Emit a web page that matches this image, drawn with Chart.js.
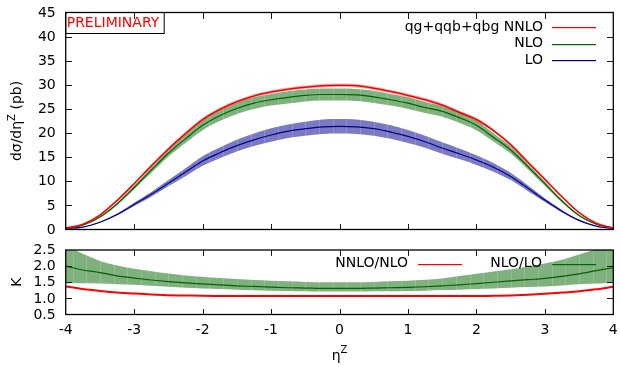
<!DOCTYPE html>
<html><head><meta charset="utf-8">
<script src="https://cdn.jsdelivr.net/npm/chart.js@4.4.0/dist/chart.umd.min.js"></script>
<style>
html,body{margin:0;padding:0;background:#fff;overflow:hidden;}
#wrap{position:relative;width:620px;height:367px;background:#fff;}
#top{position:absolute;left:0;top:0;}
#bot{position:absolute;left:0;top:240px;}
</style></head><body>
<div id="wrap"><canvas id="top" width="620" height="240"></canvas><canvas id="bot" width="620" height="127"></canvas></div>
<script>
// ---- data ----
const eta = [-4,-3.75,-3.5,-3.25,-3,-2.75,-2.5,-2.25,-2,-1.75,-1.5,-1.25,-1,-0.75,-0.5,-0.25,0,0.25,0.5,0.75,1,1.25,1.5,1.75,2,2.25,2.5,2.75,3,3.25,3.5,3.75,4];
const nnlo   = [0.3,1.1,3.0,6.0,9.5,13.2,16.7,19.9,22.8,24.9,26.5,27.7,28.5,29.1,29.5,29.8,29.9,29.8,29.3,28.6,27.8,26.9,25.8,24.3,22.8,20.5,17.6,14.0,10.4,6.8,3.5,1.3,0.3];
const nnloHi = [0.32,1.15,3.1,6.15,9.7,13.45,17.0,20.2,23.15,25.25,26.85,28.05,28.85,29.45,29.85,30.15,30.25,30.15,29.65,28.95,28.15,27.25,26.15,24.65,23.15,20.8,17.9,14.25,10.6,7.0,3.6,1.35,0.32];
const nnloLo = [0.28,1.05,2.9,5.85,9.3,12.95,16.4,19.6,22.45,24.55,26.15,27.35,28.15,28.75,29.15,29.45,29.55,29.45,28.95,28.25,27.45,26.55,25.45,23.95,22.45,20.2,17.3,13.75,10.2,6.6,3.4,1.25,0.28];
const nlo    = [0.3,0.9,2.6,5.3,8.7,12.3,15.8,18.8,21.6,23.6,25.1,26.2,26.9,27.4,27.8,28.0,28.0,27.9,27.5,26.9,26.2,25.3,24.5,23.2,21.6,19.1,16.5,13.1,9.5,5.9,2.9,1.1,0.3];
const nloHi  = [0.32,0.95,2.75,5.55,9.1,12.85,16.5,19.65,22.6,24.7,26.25,27.4,28.1,28.65,29.05,29.25,29.25,29.15,28.75,28.1,27.4,26.45,25.6,24.25,22.6,19.95,17.25,13.7,9.95,6.2,3.05,1.15,0.32];
const nloLo  = [0.28,0.85,2.45,5.05,8.3,11.75,15.1,17.95,20.6,22.5,23.95,25.0,25.7,26.15,26.55,26.75,26.75,26.65,26.25,25.7,25.0,24.15,23.4,22.15,20.6,18.25,15.75,12.5,9.05,5.6,2.75,1.05,0.28];
const lo     = [0.2,0.5,1.5,3.1,5.2,7.3,9.6,11.9,14.2,15.9,17.4,18.6,19.6,20.4,20.9,21.3,21.4,21.3,20.9,20.2,19.3,18.2,16.9,15.7,14.4,12.9,11.0,8.6,6.1,3.8,1.9,0.7,0.2];
const loHi   = [0.21,0.54,1.6,3.3,5.55,7.8,10.25,12.7,15.2,17.0,18.6,19.9,21.0,21.8,22.35,22.8,22.9,22.8,22.35,21.6,20.65,19.45,18.1,16.8,15.4,13.8,11.75,9.2,6.5,4.05,2.05,0.75,0.21];
const loLo   = [0.19,0.46,1.4,2.9,4.85,6.8,8.95,11.05,13.2,14.8,16.2,17.3,18.2,19.0,19.45,19.8,19.9,19.8,19.45,18.8,17.95,16.95,15.7,14.6,13.4,12.0,10.25,8.0,5.7,3.55,1.75,0.65,0.19];
const kNNLO  = [1.37,1.29,1.23,1.18,1.15,1.12,1.10,1.09,1.08,1.075,1.07,1.07,1.07,1.07,1.07,1.07,1.07,1.07,1.07,1.07,1.07,1.07,1.07,1.07,1.07,1.08,1.09,1.11,1.14,1.18,1.22,1.28,1.36];
const kNLO   = [2.0,1.88,1.80,1.70,1.63,1.57,1.52,1.48,1.45,1.42,1.39,1.37,1.35,1.33,1.32,1.31,1.31,1.31,1.32,1.33,1.34,1.36,1.39,1.42,1.46,1.50,1.54,1.58,1.62,1.68,1.76,1.86,1.95];
const kNLOHi = [2.65,2.38,2.16,2.02,1.92,1.84,1.77,1.71,1.67,1.63,1.60,1.57,1.55,1.53,1.51,1.50,1.50,1.50,1.51,1.53,1.55,1.58,1.62,1.69,1.76,1.83,1.90,1.99,2.08,2.20,2.36,2.52,2.60];
const kNLOLo = [1.47,1.47,1.46,1.44,1.42,1.39,1.36,1.33,1.31,1.29,1.27,1.25,1.24,1.23,1.22,1.21,1.21,1.21,1.22,1.22,1.23,1.24,1.26,1.27,1.29,1.31,1.33,1.35,1.37,1.40,1.44,1.46,1.48];
const xTicks = [-4,-3,-2,-1,0,1,2,3,4];
const yTicksTop = [0,5,10,15,20,25,30,35,40,45];
const yTicksBot = [0.5,1.0,1.5,2.0,2.5];
const legendTop = ['qg+qqb+qbg NNLO','NLO','LO'];
const legendBot = ['NNLO/NLO','NLO/LO'];
const BIN_W = 0.2; // histogram bin width of the bands

const FONT = 'DejaVu Sans';
const F14 = '14px "'+FONT+'"', F10 = '10px "'+FONT+'"';
const RED='#ff0000', GREEN='#006400', BLUE='#000090';
const GREEN_F='rgba(0,100,0,0.5)', BLUE_F='rgba(0,0,140,0.52)', RED_F='rgba(255,0,0,0.3)';

const pts = arr => arr.map((v,i)=>({x:eta[i],y:v}));
function band(hi, lo, color){
  return [
    {data:pts(hi),borderWidth:0,pointRadius:0,fill:'+1',backgroundColor:color,order:2,cubicInterpolationMode:'monotone',clip:0},
    {data:pts(lo),borderWidth:0,pointRadius:0,fill:false,order:2,cubicInterpolationMode:'monotone',clip:0}
  ];
}
function line(arr,color,w){
  return {data:pts(arr),borderColor:color,borderWidth:w,pointRadius:0,fill:false,order:0,cubicInterpolationMode:'monotone',clip:0};
}

// faint bin-edge stripes over the bands (invisible on the white background)
const binStripes = {id:'binStripes', afterDatasetDraw(chart,args){
  if(args.index!==0) return;
  const ctx=chart.ctx, a=chart.chartArea, x=chart.scales.x;
  ctx.save(); ctx.fillStyle='rgba(255,255,255,0.17)';
  for(let e=-4+BIN_W/2; e<4; e+=BIN_W){
    const p=Math.round(x.getPixelForValue(e));
    ctx.fillRect(p,a.top,1,a.bottom-a.top);
  }
  ctx.restore();
}};

// frame, inward ticks on all four sides, tick labels (positions from the chart's scales)
function frame(yTicks, yFmt, xLabels){
  return {id:'frame', afterDraw(chart){
    const ctx=chart.ctx, a=chart.chartArea, x=chart.scales.x, y=chart.scales.y;
    ctx.save();
    ctx.fillStyle='#1a1a1a';
    const t=Math.round(a.top), b=Math.round(a.bottom), l=Math.round(a.left), r=Math.round(a.right);
    xTicks.forEach(v=>{ if(v===-4||v===4) return; const p=Math.round(x.getPixelForValue(v));
      ctx.fillRect(p,b-6,1,6); ctx.fillRect(p,t,1,6);});
    yTicks.forEach((v,i)=>{ if(i===0||i===yTicks.length-1) return; const p=Math.round(y.getPixelForValue(v));
      ctx.fillRect(l,p,6,1); ctx.fillRect(r-6,p,6,1);});
    ctx.strokeStyle='#000'; ctx.lineWidth=1.3;
    ctx.strokeRect(a.left,a.top,a.right-a.left,a.bottom-a.top);
    ctx.font=F14; ctx.fillStyle='#000';
    ctx.textAlign='right'; ctx.textBaseline='middle';
    yTicks.forEach(v=>ctx.fillText(yFmt(v),a.left-10,y.getPixelForValue(v)+0.5));
    if(xLabels){
      ctx.textAlign='center';
      xTicks.forEach(v=>ctx.fillText(String(v),x.getPixelForValue(v),a.bottom+16));
    }
    ctx.restore();
  }};
}
function legendRow(ctx,text,color,xr,y,x1,x2){
  ctx.fillStyle='#000'; ctx.textAlign='right'; ctx.textBaseline='middle';
  ctx.fillText(text,xr,y);
  ctx.fillStyle=color;
  ctx.fillRect(x1,Math.round(y),x2-x1,1.2);
}

const topDecor = {id:'topDecor', afterDraw(chart){
  const ctx=chart.ctx; const a=chart.chartArea;
  ctx.save();
  ctx.font=F14;
  ctx.strokeStyle='#000'; ctx.lineWidth=1;
  ctx.strokeRect(a.left,a.top,98.5,21);
  ctx.fillStyle='#ff0000'; ctx.textAlign='left'; ctx.textBaseline='middle';
  ctx.fillText('PRELIMINARY',a.left+1,a.top+11);
  const cols=[RED,GREEN,BLUE];
  legendTop.forEach((t,i)=>legendRow(ctx,t,cols[i],543,27+i*16.5,552,596));
  ctx.translate(17,(a.top+a.bottom)/2); ctx.rotate(-Math.PI/2);
  ctx.fillStyle='#000'; ctx.textBaseline='middle';
  const p1='dσ/dη', p2='Z', p3=' (pb)';
  ctx.font=F14; const w1=ctx.measureText(p1).width, w3=ctx.measureText(p3).width;
  ctx.font=F10; const w2=ctx.measureText(p2).width;
  const sx=-(w1+w2+w3)/2;
  ctx.textAlign='left';
  ctx.font=F14; ctx.fillText(p1,sx,0);
  ctx.font=F10; ctx.fillText(p2,sx+w1,-5);
  ctx.font=F14; ctx.fillText(p3,sx+w1+w2,0);
  ctx.restore();
}};

const botDecor = {id:'botDecor', afterDraw(chart){
  const ctx=chart.ctx; const a=chart.chartArea;
  ctx.save();
  ctx.font=F14;
  legendRow(ctx,legendBot[0],RED,408,23.5,418,462);
  legendRow(ctx,legendBot[1],GREEN,542,23.5,552,596);
  ctx.save(); ctx.translate(17,(a.top+a.bottom)/2); ctx.rotate(-Math.PI/2);
  ctx.fillStyle='#000'; ctx.textAlign='center'; ctx.textBaseline='middle'; ctx.fillText('K',0,0); ctx.restore();
  const cx=(a.left+a.right)/2, yy=116;
  ctx.font=F14; const w1=ctx.measureText('η').width;
  ctx.font=F10; const w2=ctx.measureText('Z').width;
  const sx=cx-(w1+w2)/2;
  ctx.fillStyle='#000'; ctx.textAlign='left'; ctx.textBaseline='middle';
  ctx.font=F14; ctx.fillText('η',sx,yy);
  ctx.font=F10; ctx.fillText('Z',sx+w1,yy-6);
  ctx.restore();
}};

Chart.defaults.font.family = FONT;
Chart.defaults.color = '#000';

new Chart(document.getElementById('top'),{
  type:'line',
  data:{datasets:[
    ...band(nnloHi,nnloLo,RED_F),
    ...band(nloHi,nloLo,GREEN_F),
    ...band(loHi,loLo,BLUE_F),
    line(nnlo,RED,1.6), line(nlo,GREEN,1.2), line(lo,BLUE,1.2)
  ]},
  options:{
    responsive:false, animation:false, devicePixelRatio:1,
    layout:{padding:{top:12.5,right:6.7,bottom:10.5,left:65.7}},
    plugins:{legend:{display:false},tooltip:{enabled:false}},
    scales:{
      x:{type:'linear',min:-4,max:4,display:false},
      y:{type:'linear',min:0,max:45,display:false}
    }
  },
  plugins:[binStripes,frame(yTicksTop,v=>String(v),false),topDecor]
});

new Chart(document.getElementById('bot'),{
  type:'line',
  data:{datasets:[
    ...band(kNLOHi,kNLOLo,GREEN_F),
    line(kNNLO,RED,2), line(kNLO,GREEN,1.2)
  ]},
  options:{
    responsive:false, animation:false, devicePixelRatio:1,
    layout:{padding:{top:10,right:6.7,bottom:52.5,left:65.7}},
    plugins:{legend:{display:false},tooltip:{enabled:false}},
    scales:{
      x:{type:'linear',min:-4,max:4,display:false},
      y:{type:'linear',min:0.5,max:2.5,display:false}
    }
  },
  plugins:[binStripes,frame(yTicksBot,v=>v.toFixed(1),true),botDecor]
});
</script>
</body></html>
